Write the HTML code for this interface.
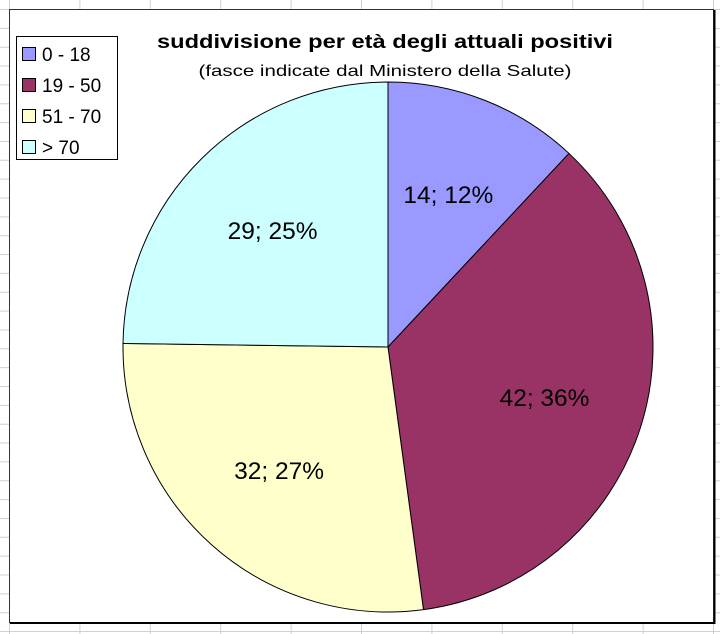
<!DOCTYPE html>
<html><head><meta charset="utf-8"><style>
html,body{margin:0;padding:0;background:#fff;}
svg{display:block;font-family:"Liberation Sans",Arial,sans-serif;}
</style></head><body>
<svg id="chart" width="720" height="634" viewBox="0 0 720 634">
  <g id="grid"></g>
  <rect x="9.5" y="9.5" width="704" height="613" fill="#fff" stroke="#333" stroke-width="1"/>
  <line x1="10" y1="623" x2="715" y2="623" stroke="#000" stroke-width="2"/>
  <line x1="714.5" y1="10" x2="714.5" y2="624" stroke="#000" stroke-width="2"/>
  <text x="385" y="48" text-anchor="middle" font-size="19" font-weight="bold" textLength="456" lengthAdjust="spacingAndGlyphs">suddivisione per età degli attuali positivi</text>
  <text x="385" y="76" text-anchor="middle" font-size="16" textLength="373" lengthAdjust="spacingAndGlyphs">(fasce indicate dal Ministero della Salute)</text>
  <g id="slices"></g>
  <g id="labels"></g>
  <g id="legend">
    <rect x="16.5" y="36.5" width="101" height="123" fill="#fff" stroke="#000"/>
  </g>
</svg>
<script>
const categories = ["0 - 18", "19 - 50", "51 - 70", "> 70"];
const values = [14, 42, 32, 29];
const colors = ["#9999ff", "#993366", "#ffffcc", "#ccffff"];

const NS = "http://www.w3.org/2000/svg";
const cx = 388, cy = 347, R = 265;
function mk(tag, attrs, parent){const e=document.createElementNS(NS,tag);for(const k in attrs)e.setAttribute(k,attrs[k]);parent.appendChild(e);return e;}
function pt(angle, r){return [cx + r*Math.sin(angle), cy - r*Math.cos(angle)];}

// grid
const grid = document.getElementById('grid');
for (let x = 9.5; x < 720; x += 70.4) {
  const l = mk('line', {x1:x, y1:0, x2:x, y2:634, stroke:'#d0d0d0', 'stroke-width':1}, grid);
  
  
}
for (let y = 9.5; y < 634; y += 18.85) {
  const l = mk('line', {x1:0, y1:y, x2:720, y2:y, stroke:'#d0d0d0', 'stroke-width':1}, grid);
  
  
}

const total = values.reduce((a,b)=>a+b,0);
const slicesG = document.getElementById('slices');
const labelsG = document.getElementById('labels');
let a0 = 0;
values.forEach((v,i)=>{
  const span = v/total*2*Math.PI;
  const a1 = a0 + span;
  const p0 = pt(a0,R), p1 = pt(a1,R);
  const large = span > Math.PI ? 1 : 0;
  const d = `M${cx},${cy} L${p0[0]},${p0[1]} A${R},${R} 0 ${large} 1 ${p1[0]},${p1[1]} Z`;
  const p = mk('path', {d, fill:colors[i], stroke:'#000', 'stroke-width':1, 'stroke-linejoin':'round'}, slicesG);
  
  
  const mid = (a0+a1)/2;
  const lp = pt(mid, R*0.62);
  const t = mk('text', {x:lp[0], y:lp[1]+9, 'text-anchor':'middle', 'font-size':24.5, fill:'#000'}, labelsG);
  t.textContent = v + "; " + Math.round(v/total*100) + "%";
  
  
  a0 = a1;
});

const legend = document.getElementById('legend');
categories.forEach((c,i)=>{
  const y = 47 + i*31;
  const sw = mk('rect', {x:22.5, y:y+0.5, width:13, height:13, fill:colors[i], stroke:'#000'}, legend);
  
  
  const t = mk('text', {x:42, y:y+14, 'font-size':19, fill:'#000'}, legend);
  t.textContent = c;
  
  
});
</script>
</body></html>
